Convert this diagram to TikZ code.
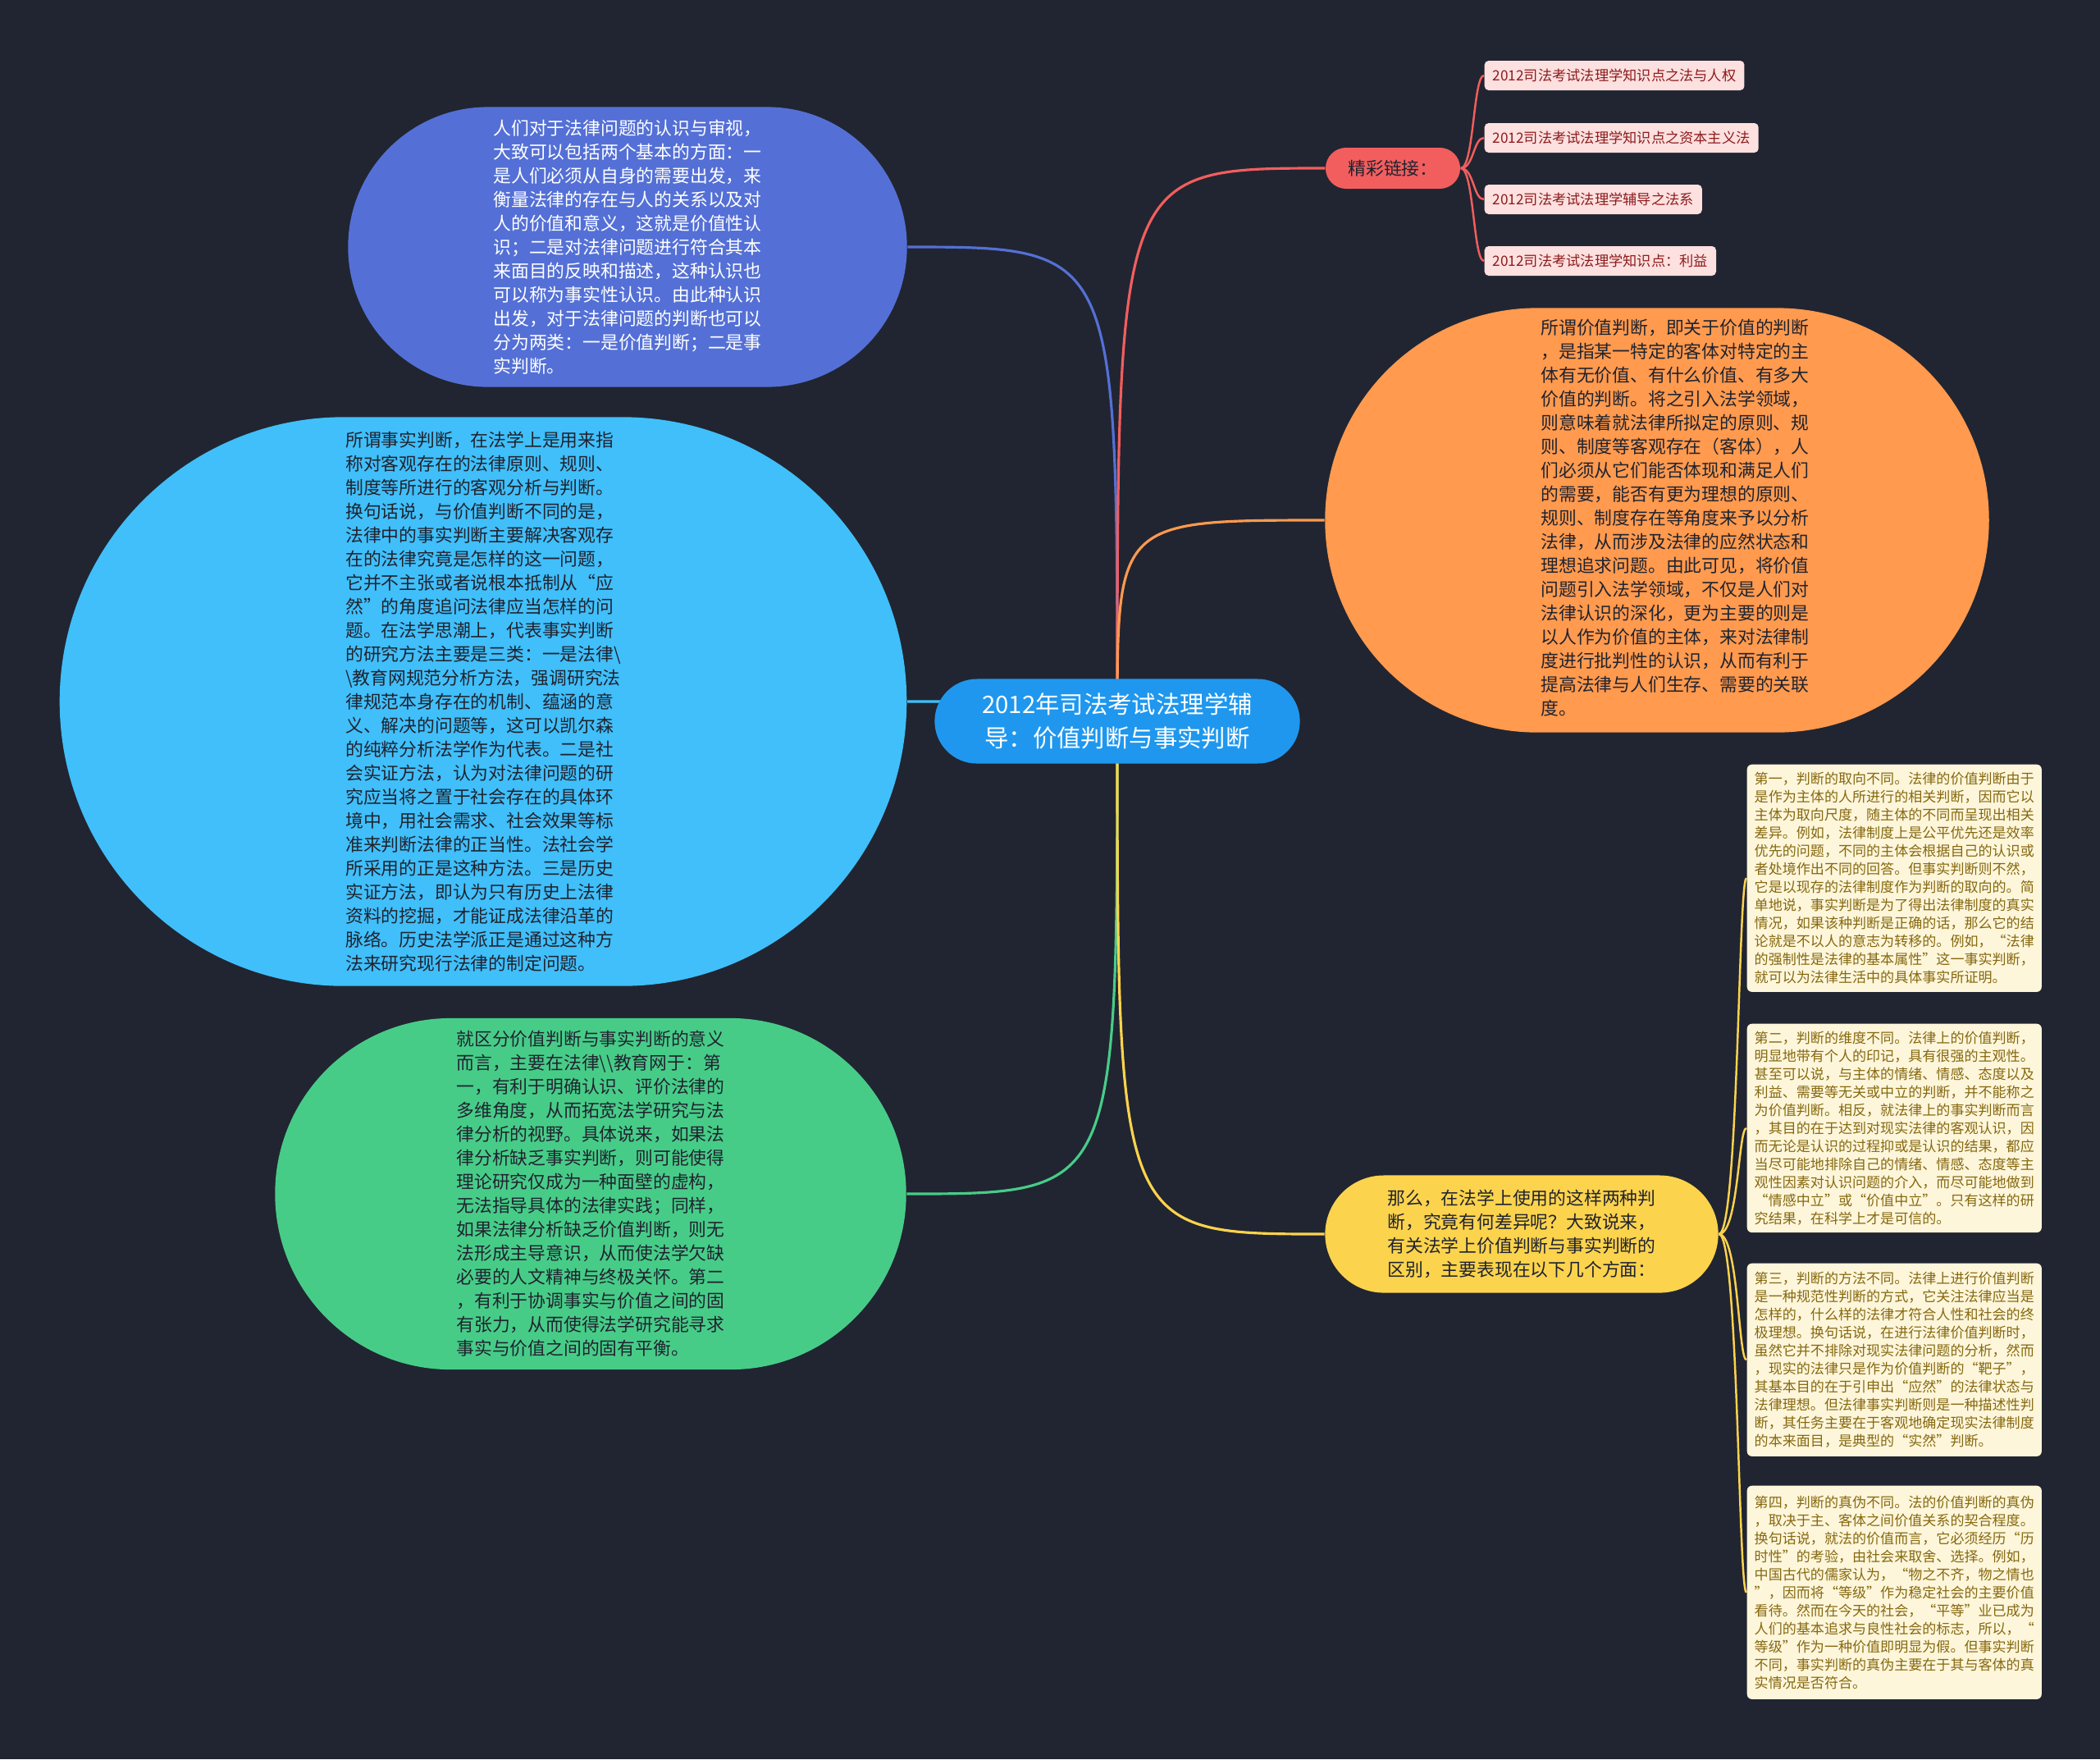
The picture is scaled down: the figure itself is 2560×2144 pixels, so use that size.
\documentclass[tikz,border=0pt]{standalone}
\usepackage{fontspec}
\setmainfont{Noto Sans CJK SC}
\usepackage{tikz}
\usetikzlibrary{calc}

\definecolor{bgcol}{HTML}{212531}
\definecolor{inkcol}{HTML}{20232F}
\definecolor{ctrcol}{HTML}{1F97EE}
\definecolor{bvcol}{HTML}{5470D6}
\definecolor{factcol}{HTML}{40BFFA}
\definecolor{sigcol}{HTML}{47CC88}
\definecolor{valcol}{HTML}{FF9A4E}
\definecolor{diffcol}{HTML}{FCD34D}
\definecolor{linkcol}{HTML}{F25E5E}
\definecolor{pinkcol}{HTML}{FDE0E0}
\definecolor{maroon}{HTML}{8C1C1C}
\definecolor{creamcol}{HTML}{FDF6DB}
\definecolor{olivecol}{HTML}{86680F}

\newcommand{\ctrtext}{\fontsize{8.35}{11.8}\selectfont}
\newcommand{\bubtext}{\fontsize{6.2}{8.25}\selectfont}
\newcommand{\linktext}{\fontsize{4.9}{6.2}\selectfont}
\newcommand{\notetext}{\fontsize{4.85}{6.26}\selectfont}

\pgfdeclarelayer{bg}
\pgfdeclarelayer{edges}
\pgfsetlayers{bg,edges,main}

\tikzset{
  bubble/.style={rectangle, inner sep=0pt, align=left, font=\bubtext, text=inkcol},
  branch/.style={line width=0.9pt},
  twig/.style={line width=0.7pt},
  linkbox/.style={rectangle, rounded corners=0.05cm, fill=pinkcol, text=maroon,
    font=\linktext, inner xsep=0.1cm, inner ysep=0pt, minimum height=0.36cm, anchor=west},
  notebox/.style={rectangle, rounded corners=0.06cm, fill=creamcol, text=olivecol,
    font=\notetext, align=left, inner sep=0.09cm, minimum width=3.57cm, anchor=north west},
}

\begin{document}
\begin{tikzpicture}[x=0.01cm, y=-0.01cm]
\begin{pgfonlayer}{bg}
  \fill[bgcol] (0,0) rectangle (2560,2144);
\end{pgfonlayer}
\useasboundingbox (0,0) rectangle (2560,2144);

% root
\node[bubble, fill=ctrcol, text=white, font=\ctrtext, align=center,
  minimum width=4.45cm, minimum height=1.03cm, rounded corners=0.515cm] (ctr) at (1362,879)
  {2012年司法考试法理学辅\\导：价值判断与事实判断};

% left side
\node[bubble, fill=bvcol, text=white, minimum width=6.81cm, minimum height=3.41cm,
  rounded corners=1.705cm] (bv) at (765,301)
  {人们对于法律问题的认识与审视，\\大致可以包括两个基本的方面：一\\是人们必须从自身的需要出发，来\\衡量法律的存在与人的关系以及对\\人的价值和意义，这就是价值性认\\识；二是对法律问题进行符合其本\\来面目的反映和描述，这种认识也\\可以称为事实性认识。由此种认识\\出发，对于法律问题的判断也可以\\分为两类：一是价值判断；二是事\\实判断。};

\node[bubble, fill=factcol, minimum width=10.32cm, minimum height=6.93cm,
  rounded corners=3.465cm] (fact) at (589,855)
  {所谓事实判断，在法学上是用来指\\称对客观存在的法律原则、规则、\\制度等所进行的客观分析与判断。\\换句话说，与价值判断不同的是，\\法律中的事实判断主要解决客观存\\在的法律究竟是怎样的这一问题，\\它并不主张或者说根本抵制从“应\\然”的角度追问法律应当怎样的问\\题。在法学思潮上，代表事实判断\\的研究方法主要是三类：一是法律\textbackslash{}\\\textbackslash{}教育网规范分析方法，强调研究法\\律规范本身存在的机制、蕴涵的意\\义、解决的问题等，这可以凯尔森\\的纯粹分析法学作为代表。二是社\\会实证方法，认为对法律问题的研\\究应当将之置于社会存在的具体环\\境中，用社会需求、社会效果等标\\准来判断法律的正当性。法社会学\\所采用的正是这种方法。三是历史\\实证方法，即认为只有历史上法律\\资料的挖掘，才能证成法律沿革的\\脉络。历史法学派正是通过这种方\\法来研究现行法律的制定问题。};

\node[bubble, fill=sigcol, minimum width=7.69cm, minimum height=4.28cm,
  rounded corners=2.14cm] (sig) at (720,1455)
  {就区分价值判断与事实判断的意义\\而言，主要在法律\textbackslash{}\textbackslash{}教育网于：第\\一，有利于明确认识、评价法律的\\多维角度，从而拓宽法学研究与法\\律分析的视野。具体说来，如果法\\律分析缺乏事实判断，则可能使得\\理论研究仅成为一种面壁的虚构，\\无法指导具体的法律实践；同样，\\如果法律分析缺乏价值判断，则无\\法形成主导意识，从而使法学欠缺\\必要的人文精神与终极关怀。第二\\，有利于协调事实与价值之间的固\\有张力，从而使得法学研究能寻求\\事实与价值之间的固有平衡。};

% right side
\node[bubble, fill=linkcol, text=inkcol, minimum width=1.64cm, minimum height=0.5cm,
  rounded corners=0.25cm] (links) at (1698,205) {精彩链接：};

\node[linkbox] (lk1) at (1809,92) {2012司法考试法理学知识点之法与人权};
\node[linkbox] (lk2) at (1809,168) {2012司法考试法理学知识点之资本主义法};
\node[linkbox] (lk3) at (1809,243) {2012司法考试法理学辅导之法系};
\node[linkbox] (lk4) at (1809,318) {2012司法考试法理学知识点：利益};

\node[bubble, fill=valcol, minimum width=8.09cm, minimum height=5.17cm,
  rounded corners=2.585cm] (val) at (2020,634)
  {\hspace*{0.44cm}\begin{tabular}{@{}l@{}}所谓价值判断，即关于价值的判断\\，是指某一特定的客体对特定的主\\体有无价值、有什么价值、有多大\\价值的判断。将之引入法学领域，\\则意味着就法律所拟定的原则、规\\则、制度等客观存在（客体），人\\们必须从它们能否体现和满足人们\\的需要，能否有更为理想的原则、\\规则、制度存在等角度来予以分析\\法律，从而涉及法律的应然状态和\\理想追求问题。由此可见，将价值\\问题引入法学领域，不仅是人们对\\法律认识的深化，更为主要的则是\\以人作为价值的主体，来对法律制\\度进行批判性的认识，从而有利于\\提高法律与人们生存、需要的关联\\度。\end{tabular}};

\node[bubble, fill=diffcol, minimum width=4.79cm, minimum height=1.43cm,
  rounded corners=0.715cm] (diff) at (1855,1504)
  {那么，在法学上使用的这样两种判\\断，究竟有何差异呢？大致说来，\\有关法学上价值判断与事实判断的\\区别，主要表现在以下几个方面：};

\node[notebox, minimum height=2.77cm] (nt1) at (2129,931)
  {第一，判断的取向不同。法律的价值判断由于\\是作为主体的人所进行的相关判断，因而它以\\主体为取向尺度，随主体的不同而呈现出相关\\差异。例如，法律制度上是公平优先还是效率\\优先的问题，不同的主体会根据自己的认识或\\者处境作出不同的回答。但事实判断则不然，\\它是以现存的法律制度作为判断的取向的。简\\单地说，事实判断是为了得出法律制度的真实\\情况，如果该种判断是正确的话，那么它的结\\论就是不以人的意志为转移的。例如，“法律\\的强制性是法律的基本属性”这一事实判断，\\就可以为法律生活中的具体事实所证明。};
\node[notebox, minimum height=2.53cm] (nt2) at (2129,1247)
  {第二，判断的维度不同。法律上的价值判断，\\明显地带有个人的印记，具有很强的主观性。\\甚至可以说，与主体的情绪、情感、态度以及\\利益、需要等无关或中立的判断，并不能称之\\为价值判断。相反，就法律上的事实判断而言\\，其目的在于达到对现实法律的客观认识，因\\而无论是认识的过程抑或是认识的结果，都应\\当尽可能地排除自己的情绪、情感、态度等主\\观性因素对认识问题的介入，而尽可能地做到\\“情感中立”或“价值中立”。只有这样的研\\究结果，在科学上才是可信的。};
\node[notebox, minimum height=2.35cm] (nt3) at (2129,1539)
  {第三，判断的方法不同。法律上进行价值判断\\是一种规范性判断的方式，它关注法律应当是\\怎样的，什么样的法律才符合人性和社会的终\\极理想。换句话说，在进行法律价值判断时，\\虽然它并不排除对现实法律问题的分析，然而\\，现实的法律只是作为价值判断的“靶子”，\\其基本目的在于引申出“应然”的法律状态与\\法律理想。但法律事实判断则是一种描述性判\\断，其任务主要在于客观地确定现实法律制度\\的本来面目，是典型的“实然”判断。};
\node[notebox, minimum height=2.6cm] (nt4) at (2129,1810)
  {第四，判断的真伪不同。法的价值判断的真伪\\，取决于主、客体之间价值关系的契合程度。\\换句话说，就法的价值而言，它必须经历“历\\时性”的考验，由社会来取舍、选择。例如，\\中国古代的儒家认为，“物之不齐，物之情也\\”，因而将“等级”作为稳定社会的主要价值\\看待。然而在今天的社会，“平等”业已成为\\人们的基本追求与良性社会的标志，所以，“\\等级”作为一种价值即明显为假。但事实判断\\不同，事实判断的真伪主要在于其与客体的真\\实情况是否符合。};

\begin{pgfonlayer}{edges}
  \draw[branch, bvcol] (ctr.center) .. controls (ctr.center |- bv.east) .. (bv.east);
  \draw[branch, factcol] (ctr.center) .. controls (ctr.center |- fact.east) .. (fact.east);
  \draw[branch, sigcol] (ctr.center) .. controls (ctr.center |- sig.east) .. (sig.east);
  \draw[branch, linkcol] (ctr.center) .. controls (ctr.center |- links.west) .. (links.west);
  \draw[branch, valcol] (ctr.center) .. controls (ctr.center |- val.west) .. (val.west);
  \draw[branch, diffcol] (ctr.center) .. controls (ctr.center |- diff.west) .. (diff.west);
  \foreach \n in {lk1,lk2,lk3,lk4}
    \draw[twig, linkcol] (links.east) .. controls +(16,0) and +(-13,0) .. (\n.west);
  \foreach \n in {nt1,nt2,nt3,nt4}
    \draw[twig, diffcol] (diff.east) .. controls +(24,0) and +(-10,0) .. (\n.west);
\end{pgfonlayer}
\end{tikzpicture}
\end{document}
